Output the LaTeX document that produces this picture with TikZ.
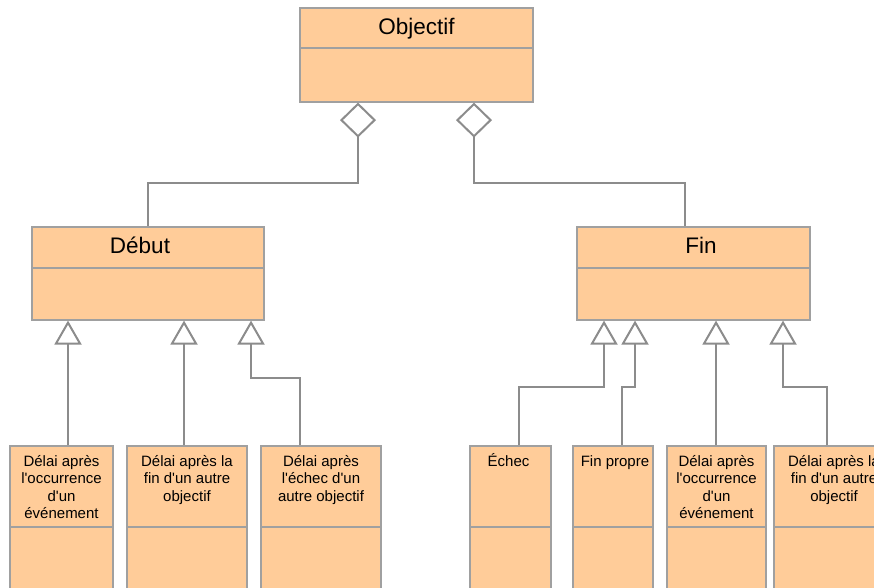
\documentclass[tikz,border=0pt]{standalone}
\usepackage{fontspec}
\newfontfamily\ls{Liberation Sans}
\usetikzlibrary{arrows.meta}
\definecolor{boxfill}{RGB}{255,204,153}
\definecolor{boxline}{RGB}{160,160,160}
\definecolor{conn}{RGB}{140,140,140}
\begin{document}
\begin{tikzpicture}[x=1pt,y=-1pt,
  cls/.style={draw=boxline, fill=boxfill, line width=1.2pt, inner sep=0pt},
  title/.style={font=\ls\fontsize{22.5}{26}\selectfont, anchor=base, inner sep=0pt},
  lbl/.style={font=\ls\fontsize{15}{17.3}\selectfont, anchor=north, inner sep=0pt, align=center},
  div/.style={draw=boxline, line width=1.2pt},
  gen/.style={draw=conn, line width=2pt, -{Triangle[open, length=24pt, width=27pt]}},
  agg/.style={draw=conn, line width=2pt, {Diamond[open, length=35pt, width=36pt]}-},
]
\useasboundingbox (0,0) rectangle (874,588);
\clip (0,0) rectangle (874,588);
\fill[white] (0,0) rectangle (874,588);

% top class
\node[cls, minimum width=233, minimum height=94] (obj) at (416.5,55) {};
\draw[div] (obj.west |- 0,48) -- (obj.east |- 0,48);
\node[title] (objt) at (416.5,35) {Objectif};

% second level
\node[cls, minimum width=232, minimum height=93] (deb) at (148,273.5) {};
\draw[div] (deb.west |- 0,268) -- (deb.east |- 0,268);
\node[title] (debt) at (140,253) {Début};

\node[cls, minimum width=233, minimum height=93] (fin) at (693.5,273.5) {};
\draw[div] (fin.west |- 0,268) -- (fin.east |- 0,268);
\node[title] (fint) at (701,253) {Fin};

% bottom level
\node[cls, minimum width=103, minimum height=160] (b1) at (61.5,526) {};
\node[cls, minimum width=120, minimum height=160] (b2) at (187,526) {};
\node[cls, minimum width=120, minimum height=160] (b3) at (321,526) {};
\node[cls, minimum width=81, minimum height=160] (r1) at (510.5,526) {};
\node[cls, minimum width=80, minimum height=160] (r2) at (613,526) {};
\node[cls, minimum width=99, minimum height=160] (r3) at (716.5,526) {};
\node[cls, minimum width=120, minimum height=160] (r4) at (834,526) {};
\foreach \n in {b1,b2,b3,r1,r2,r3,r4}{
  \draw[div] (\n.west |- 0,527) -- (\n.east |- 0,527);
}
\node[lbl] (b1t) at ([yshift=-7pt]b1.north) {\rule{0pt}{14pt}Délai après\\l'occurrence\\d'un\\événement};
\node[lbl] (b2t) at ([yshift=-7pt]b2.north) {\rule{0pt}{14pt}Délai après la\\fin d'un autre\\objectif};
\node[lbl] (b3t) at ([yshift=-7pt]b3.north) {\rule{0pt}{14pt}Délai après\\l'échec d'un\\autre objectif};
\node[lbl] (r1t) at ([yshift=-7pt,xshift=-2pt]r1.north) {\rule{0pt}{14pt}Échec};
\node[lbl] (r2t) at ([yshift=-7pt,xshift=2pt]r2.north) {\rule{0pt}{14pt}Fin propre};
\node[lbl] (r3t) at ([yshift=-7pt]r3.north) {\rule{0pt}{14pt}Délai après\\l'occurrence\\d'un\\événement};
\node[lbl] (r4t) at ([yshift=-7pt]r4.north) {\rule{0pt}{14pt}Délai après la\\fin d'un autre\\objectif};

% aggregations
\draw[agg] ([xshift=-58.5pt]obj.south) -- ++(0,80) -| (deb.north);
\draw[agg] ([xshift=57.5pt]obj.south) -- ++(0,80) -| ([xshift=-8.5pt]fin.north);

% generalisations
\draw[gen] ([xshift=6.5pt]b1.north) -- ([xshift=6.5pt]b1.north |- deb.south);
\draw[gen] ([xshift=-3pt]b2.north) -- ([xshift=-3pt]b2.north |- deb.south);
\draw[gen] ([xshift=-21pt]b3.north) -- ++(0,-67) -| ([xshift=103pt]deb.south);
\draw[gen] ([xshift=8.5pt]r1.north) -- ++(0,-58) -| ([xshift=-89.5pt]fin.south);
\draw[gen] ([xshift=9pt]r2.north) -- ++(0,-58) -| ([xshift=-58.5pt]fin.south);
\draw[gen] ([xshift=-0.5pt]r3.north) -- ([xshift=-0.5pt]r3.north |- fin.south);
\draw[gen] ([xshift=-7pt]r4.north) -- ++(0,-58) -| ([xshift=89.5pt]fin.south);
\end{tikzpicture}
\end{document}
